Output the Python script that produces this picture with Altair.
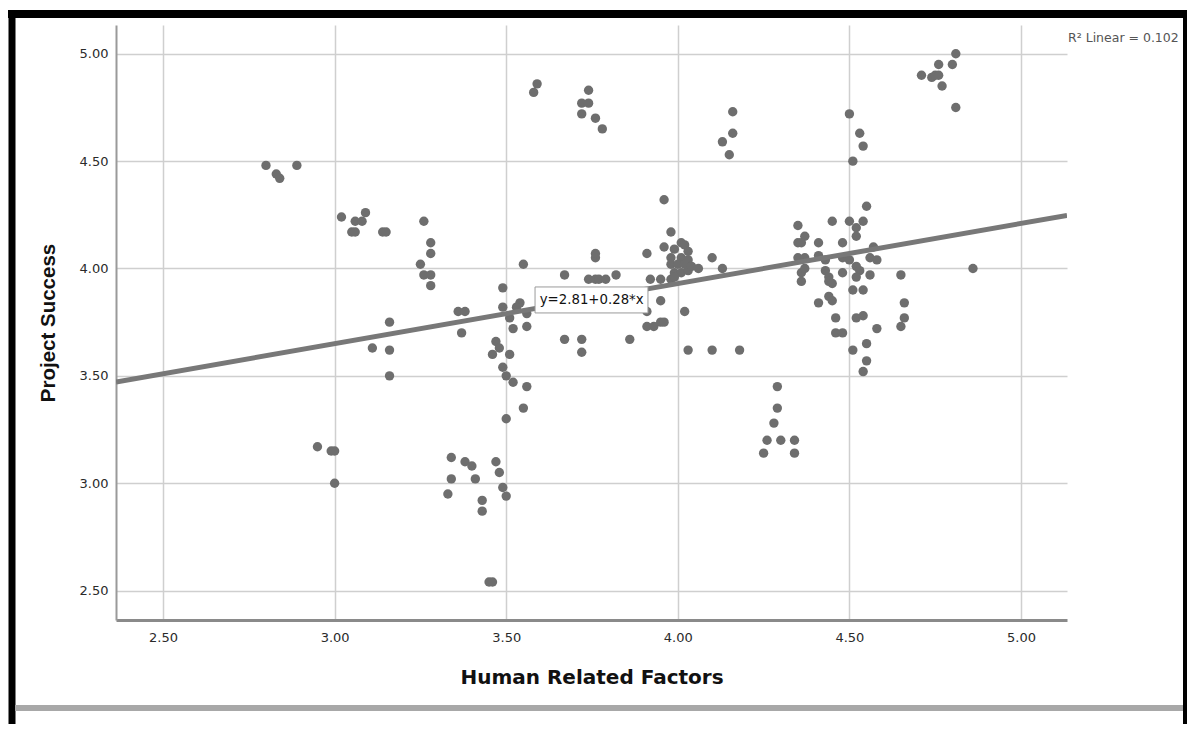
import altair as alt
import pandas as pd

# ---- data (Human Related Factors vs Project Success) ----
hrf = [
    2.80, 2.83, 2.84, 2.89,
    3.02, 3.06, 3.08, 3.09, 3.05, 3.06, 3.14, 3.15,
    3.26, 3.28, 3.28, 3.25, 3.26, 3.28, 3.28,
    3.16, 3.11, 3.16, 3.16,
    2.95, 2.99, 3.00, 3.00,
    3.36, 3.38, 3.37,
    3.34, 3.38, 3.40, 3.34, 3.41, 3.33, 3.43, 3.43, 3.47, 3.48, 3.49, 3.50, 3.45, 3.46,
    3.49, 3.55, 3.49, 3.54, 3.53, 3.56, 3.51, 3.52, 3.56, 3.47, 3.48, 3.46, 3.51, 3.49, 3.50, 3.52, 3.56, 3.55, 3.50,
    3.59, 3.58, 3.74, 3.72, 3.74, 3.72, 3.76, 3.78,
    3.67, 3.67, 3.72, 3.72, 3.76, 3.76, 3.74, 3.76, 3.77, 3.79, 3.82, 3.86,
    3.91, 3.92, 3.95, 3.98, 3.95, 3.91, 3.91, 3.93, 3.95, 3.96, 3.96, 4.02,
    3.98, 3.96, 4.01, 4.02, 4.03, 3.99, 3.98, 4.01, 4.03, 3.98, 4.00, 4.02, 3.99, 4.01, 4.03, 3.99, 4.04, 4.06, 4.10, 4.13,
    4.03, 4.10, 4.18,
    4.16, 4.16, 4.13, 4.15,
    4.29, 4.29, 4.28, 4.26, 4.30, 4.34, 4.25, 4.34,
    4.35, 4.37, 4.35, 4.36, 4.41, 4.48, 4.45, 4.50, 4.54, 4.52, 4.52, 4.57, 4.35, 4.37, 4.41, 4.43, 4.48, 4.50,
    4.56, 4.58, 4.36, 4.37, 4.43, 4.48, 4.52, 4.53, 4.44, 4.52, 4.56, 4.36, 4.44, 4.45, 4.65, 4.51, 4.54, 4.44,
    4.45, 4.41, 4.66, 4.66, 4.65, 4.46, 4.52, 4.54, 4.46, 4.48, 4.58, 4.55, 4.51, 4.55, 4.54, 4.86, 4.55,
    4.50, 4.53, 4.54, 4.51,
    4.71, 4.74, 4.75, 4.76, 4.76, 4.77, 4.80, 4.81, 4.81,
]
ps = [
    4.48, 4.44, 4.42, 4.48,
    4.24, 4.22, 4.22, 4.26, 4.17, 4.17, 4.17, 4.17,
    4.22, 4.12, 4.07, 4.02, 3.97, 3.97, 3.92,
    3.75, 3.63, 3.62, 3.50,
    3.17, 3.15, 3.15, 3.00,
    3.80, 3.80, 3.70,
    3.12, 3.10, 3.08, 3.02, 3.02, 2.95, 2.92, 2.87, 3.10, 3.05, 2.98, 2.94, 2.54, 2.54,
    3.91, 4.02, 3.82, 3.84, 3.82, 3.79, 3.77, 3.72, 3.73, 3.66, 3.63, 3.60, 3.60, 3.54, 3.50, 3.47, 3.45, 3.35, 3.30,
    4.86, 4.82, 4.83, 4.77, 4.77, 4.72, 4.70, 4.65,
    3.97, 3.67, 3.67, 3.61, 4.05, 4.07, 3.95, 3.95, 3.95, 3.95, 3.97, 3.67,
    4.07, 3.95, 3.95, 3.95, 3.85, 3.80, 3.73, 3.73, 3.75, 3.75, 4.32, 3.80,
    4.17, 4.10, 4.12, 4.11, 4.08, 4.09, 4.05, 4.05, 4.04, 4.02, 4.02, 4.02, 3.98, 3.98, 3.99, 3.96, 4.01, 4.00, 4.05, 4.00,
    3.62, 3.62, 3.62,
    4.73, 4.63, 4.59, 4.53,
    3.45, 3.35, 3.28, 3.20, 3.20, 3.20, 3.14, 3.14,
    4.20, 4.15, 4.12, 4.12, 4.12, 4.12, 4.22, 4.22, 4.22, 4.19, 4.15, 4.10, 4.05, 4.05, 4.06, 4.04, 4.05, 4.04,
    4.05, 4.04, 3.98, 4.00, 3.99, 3.98, 4.01, 3.99, 3.96, 3.96, 3.97, 3.94, 3.94, 3.93, 3.97, 3.90, 3.90, 3.87,
    3.85, 3.84, 3.84, 3.77, 3.73, 3.77, 3.77, 3.78, 3.70, 3.70, 3.72, 3.65, 3.62, 3.57, 3.52, 4.00, 4.29,
    4.72, 4.63, 4.57, 4.50,
    4.90, 4.89, 4.90, 4.90, 4.95, 4.85, 4.95, 5.00, 4.75,
]

x_domain = [2.363, 5.134]
y_domain = [2.363, 5.134]
tick_values = [2.5, 3.0, 3.5, 4.0, 4.5, 5.0]
intercept = 2.81
slope = 0.28
eq_text = "y=2.81+0.28*x"
r2_text = "R\u00b2 Linear = 0.102"
eq_box_x = [3.584, 3.913]
eq_box_y = [3.793, 3.914]
eq_pos = [3.749, 3.853]

W, H = 951, 595

df = pd.DataFrame({"hrf": hrf, "ps": ps})
line_df = pd.DataFrame({"hrf": x_domain, "ps": [intercept + slope * v for v in x_domain]})
box_df = pd.DataFrame({"hrf": [eq_box_x[0]], "x2": [eq_box_x[1]], "ps": [eq_box_y[0]], "y2": [eq_box_y[1]],
                       "tx": [eq_pos[0]], "ty": [eq_pos[1]], "label": [eq_text]})
one = pd.DataFrame({"k": [0]})

xs = alt.Scale(domain=x_domain, nice=False, zero=False)
ys = alt.Scale(domain=y_domain, nice=False, zero=False)

x_axis = alt.Axis(values=tick_values, format=".2f", title="Human Related Factors", grid=True,
                  ticks=False, labelPadding=11, titlePadding=23,
                  labelFont="DejaVu Sans", labelFontSize=13, labelColor="#2a2a2a",
                  titleFont="DejaVu Sans", titleFontSize=20, titleFontWeight="bold", titleColor="#111111",
                  domainColor="#8a8a8a", domainWidth=3, gridColor="#cfcfcf", gridWidth=1.5)
y_axis = alt.Axis(values=tick_values, format=".2f", title="Project Success", grid=True,
                  ticks=False, labelPadding=8, titlePadding=21,
                  labelFont="DejaVu Sans", labelFontSize=13, labelColor="#2a2a2a",
                  titleFont="Liberation Sans", titleFontSize=20.5, titleFontWeight="bold", titleColor="#111111",
                  domainColor="#9a9a9a", domainWidth=2, gridColor="#cfcfcf", gridWidth=1.5)

X = alt.X("hrf:Q", scale=xs, axis=x_axis)
Y = alt.Y("ps:Q", scale=ys, axis=y_axis)

points = alt.Chart(df).mark_circle(size=88, color="#6e6e6e", opacity=1).encode(x=X, y=Y)

fit = alt.Chart(line_df).mark_line(color="#787878", strokeWidth=5, clip=True).encode(x=X, y=Y)

box = alt.Chart(box_df).mark_rect(fill="white", stroke="#9a9a9a", strokeWidth=1).encode(
    x=X, x2="x2:Q", y=Y, y2="y2:Q",
)
eq = alt.Chart(box_df).mark_text(font="DejaVu Sans", fontSize=13.3, color="#111111").encode(
    x=alt.X("tx:Q", scale=xs, axis=x_axis),
    y=alt.Y("ty:Q", scale=ys, axis=y_axis),
    text="label:N",
)

r2 = alt.Chart(one).mark_text(font="DejaVu Sans", fontSize=12.5, color="#555555",
                              align="left", baseline="middle").encode(
    x=alt.value(952), y=alt.value(13), text=alt.value(r2_text))

# screenshot frame (decoration)
frame_top = alt.Chart(one).mark_rule(color="black", strokeWidth=8).encode(
    x=alt.value(-108), x2=alt.value(1071), y=alt.value(-11))
frame_left = alt.Chart(one).mark_rule(color="black", strokeWidth=7).encode(
    x=alt.value(-104), y=alt.value(-15), y2=alt.value(703))
frame_right = alt.Chart(one).mark_rule(color="black", strokeWidth=4).encode(
    x=alt.value(1069), y=alt.value(-15), y2=alt.value(703))
shadow = alt.Chart(one).mark_rule(color="#a8a8a8", strokeWidth=6).encode(
    x=alt.value(-101), x2=alt.value(1067), y=alt.value(683))

chart = alt.layer(points, fit, box, eq, r2, frame_top, frame_left, frame_right, shadow).properties(
    width=W, height=H,
    autosize=alt.AutoSizeParams(type="none"),
    padding={"left": 108, "top": 17, "right": 120, "bottom": 104},
    background="white",
).configure_view(stroke="transparent")

chart.save("out.html", embed_options={"renderer": "svg", "actions": False})
